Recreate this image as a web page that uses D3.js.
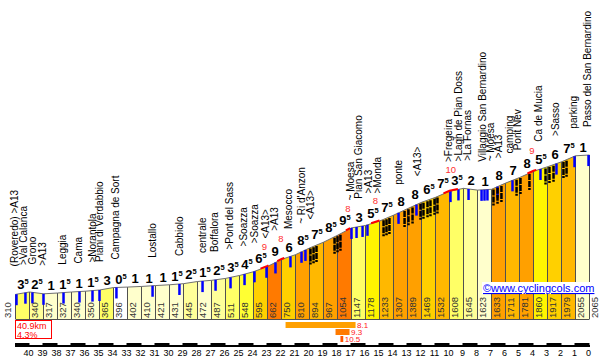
<!DOCTYPE html>
<html><head><meta charset="utf-8">
<script src="https://cdn.jsdelivr.net/npm/d3@7/dist/d3.min.js"></script>
<style>body{margin:0;background:#fff;overflow:hidden}svg{display:block}</style>
</head><body>
<svg id="chart" width="603" height="360"></svg>
<script>
// ---------- DATA ----------
// elevation (m) at each km boundary, from start (40.9 km to go) to the top
const elevations = [310,340,317,327,340,350,365,396,402,410,421,431,445,472,487,511,548,595,662,750,810,894,967,1054,1147,1178,1233,1307,1389,1469,1532,1608,1645,1623,1633,1711,1781,1860,1917,1979,2055,2065];
// gradient printed above each km (%)
const gradients = [3.5,2.5,1,1.5,1,1.5,3,0.5,1,1,1,1.5,2.5,1.5,2.5,3.5,4.5,6.5,9,6,8.5,7.5,8.5,9.5,3,5.5,7.5,8,8,6.5,7.5,3.5,2,1,8,7,8,5.5,6,7.5,1];
// km-to-go tick labels
const kmLabels = [40,39,38,37,36,35,34,33,32,31,30,29,28,27,26,25,24,23,22,21,20,19,18,17,16,15,14,13,12,11,10,9,8,7,6,5,4,3,2,1,0];
// place names and their positions (in km columns from start)
const placeNames = ["(Roveredo) >A13",">Val Calanca","Grono",">A13","Leggia","Cama",">Norantola","Piani di Verdabbio","Campagna de Sort","Lostallo","Cabbiolo","centrale","Boffalora",">Pont del Sass",">Soazza",">Soazza","<A13>",">A13","Mesocco","~ Ri d'Anzon","<A13>","~ Moesa","Pian San Giacomo",">A13",">Monda","ponte","<A13>",">Fregeira",">Lagh de Pian Doss",">La Fornas","Villaggio San Bernardino","~ Moesa",">A13","camping","Pont Nev","Ca de Mucia",">Sasso","parking","Passo del San Bernardino"];
const placePos = [-0.07,0.57,1.21,1.93,3.36,4.5,5.5,6.0,7.14,9.79,11.71,13.36,14.21,15.29,16.29,17.07,17.86,18.5,19.5,20.43,21.07,23.93,24.5,25.21,25.86,27.36,28.71,30.93,31.64,32.29,33.36,33.93,34.5,35.29,35.86,37.36,38.57,39.86,40.86];
// blue place markers on the profile
const markerPos = [0.07,0.71,1.21,2.0,3.43,4.57,5.5,6.0,7.21,9.79,11.71,13.36,14.29,15.36,16.36,17.07,17.93,18.57,19.64,20.43,20.71,24.0,24.36,24.79,25.14,27.36,28.64,31.07,31.64,32.36,33.29,33.5,33.71,34.43,35.5,37.5,38.64,39.93,40.93];
// hairpin bends (black marks)
const hairpinPos = [21.07,21.29,21.5,22.79,23.0,23.21,26.29,26.5,26.71,27.79,28.07,28.36,28.93,29.14,29.43,29.64,29.93,30.14,34.14,34.43,34.71,35.79,36.07,36.71,37.86,38.14,38.43,39.14,39.36];
// steepest short pitches (red)
const peakFrom = [17.5,18.7,23.6,25.4,30.57,36.57];
const peakTo   = [18.07,19.2,23.9,26.0,31.6,37.2];
const peakVal  = [9,8,8,8,10,9];
// steepest stretches: start column, length km, average %
const steepStart = [19.29,22.86,23.21];
const steepLen   = [5,1,0.2];
const steepGrade = [8.1,9.3,10.5];
const summary = ["40.9km","4.3%"];
const credit = "\u00A9www.cyclingcols.com";

// ---------- STYLE ----------
const gradeColors = ['#FFFFFF','#FFFFCC','#FFFF99','#FFFF66','#FFFF33','#FFF500','#FFD000','#FFB800','#FFA000','#FF7A00','#FF5500'];
const color = g => gradeColors[Math.min(10, Math.floor(Math.abs(g)))];

const svg = d3.select('#chart');
const x = d3.scaleLinear().domain([0, 41]).range([15.5, 589.5]);
const y = d3.scaleLinear().domain([0, 2065]).range([319, 155]);
const yBase = y(0);
const profY = p => {
  const i = Math.max(0, Math.min(40, Math.floor(p)));
  const f = Math.max(0, Math.min(1, p - i));
  return y(elevations[i] + (elevations[i+1] - elevations[i]) * f);
};
const FONT = "'Liberation Sans', Arial, sans-serif";

// columns
const cols = gradients.map((g, i) => ({g, i, e0: elevations[i], e1: elevations[i+1]}));
svg.append('g').selectAll('path').data(cols).join('path')
  .attr('d', d => `M${x(d.i)},${yBase}L${x(d.i)},${y(d.e0)}L${x(d.i+1)},${y(d.e1)}L${x(d.i+1)},${yBase}Z`)
  .attr('fill', d => color(d.g));

// column dividers
svg.append('g').selectAll('line').data(elevations).join('line')
  .attr('x1', (d, i) => x(i)).attr('x2', (d, i) => x(i))
  .attr('y1', yBase).attr('y2', d => y(d))
  .attr('stroke', '#505050').attr('stroke-width', 1);
svg.append('line').attr('x1', x(0)).attr('x2', x(41)).attr('y1', yBase + 0.5).attr('y2', yBase + 0.5)
  .attr('stroke', '#505050');

// profile line
svg.append('path')
  .attr('d', d3.line().x((d, i) => x(i)).y(d => y(d))(elevations))
  .attr('fill', 'none').attr('stroke', '#707070').attr('stroke-width', 1);

// blue markers
svg.append('g').selectAll('line').data(markerPos).join('line')
  .attr('x1', d => x(d)).attr('x2', d => x(d))
  .attr('y1', d => profY(d)).attr('y2', d => profY(d) + 11)
  .attr('stroke', '#0000FF').attr('stroke-width', 2.5);

// hairpins
svg.append('g').selectAll('line').data(hairpinPos).join('line')
  .attr('x1', d => x(d)).attr('x2', d => x(d))
  .attr('y1', d => profY(d) + 1).attr('y2', d => profY(d) + 17)
  .attr('stroke', '#000').attr('stroke-width', 2.5)
  .attr('stroke-dasharray', '6,1');

// red steep pitches on the profile
svg.append('g').selectAll('path').data(peakFrom).join('path')
  .attr('d', (d, i) => {
    const pts = [peakFrom[i]];
    for (let k = Math.ceil(peakFrom[i]); k < peakTo[i]; k++) pts.push(k);
    pts.push(peakTo[i]);
    return d3.line().x(p => x(p)).y(p => profY(p) - 0.5)(pts);
  })
  .attr('fill', 'none').attr('stroke', '#FF0000').attr('stroke-width', 2);
const peakX = i => x((peakFrom[i] + peakTo[i]) / 2);
const peakY = i => profY((peakFrom[i] + peakTo[i]) / 2) - 18;
svg.append('g').selectAll('text').data(peakVal).join('text')
  .attr('x', (d, i) => peakX(i))
  .attr('y', (d, i) => peakY(i))
  .attr('text-anchor', 'middle').attr('font-family', FONT).attr('font-size', 9.5)
  .attr('fill', '#FF3030').text(d => d);

// elevation labels in columns
svg.append('g').selectAll('text').data(elevations).join('text')
  .attr('transform', (d, i) => `translate(${i === 0 ? x(0) - 5 : x(i) + 8},${yBase - 1}) rotate(-90)`)
  .attr('font-family', FONT).attr('font-size', 9.5).attr('fill', '#333')
  .text(d => d);

// gradient numbers
const gt = svg.append('g').selectAll('text').data(cols).join('text')
  .attr('x', d => (x(d.i) + x(d.i+1)) / 2 + 0.5)
  .attr('y', d => y(Math.max(d.e0, d.e1)) - 3)
  .attr('text-anchor', 'middle').attr('font-family', FONT).attr('font-weight', 'bold');
gt.append('tspan').attr('font-size', 13).text(d => Math.floor(Math.abs(d.g)));
gt.filter(d => Math.abs(d.g) % 1 !== 0).append('tspan')
  .attr('font-size', 7.5).attr('dy', -5).text('5');

// place names (lifted above the red pitch numbers where they meet)
const placeBottom = i => {
  const px = x(placePos[i]);
  let b = profY(placePos[i]) - 28;
  peakVal.forEach((v, k) => {
    if (Math.abs(peakX(k) - px) < 9) b = Math.min(b, peakY(k) - 11);
  });
  return b;
};
svg.append('g').selectAll('text').data(placeNames).join('text')
  .attr('transform', (d, i) => `translate(${x(placePos[i])},${placeBottom(i)}) rotate(-90)`)
  .attr('dy', '0.35em')
  .attr('font-family', FONT).attr('font-size', 10).attr('fill', '#000')
  .text(d => d);

// credit
svg.append('rect').attr('x', 482).attr('y', 282).attr('width', 110).attr('height', 12).attr('fill', '#fff');
svg.append('text').attr('x', 483).attr('y', 292).attr('font-family', FONT).attr('font-size', 11)
  .attr('fill', '#0000FF').attr('text-decoration', 'underline').text(credit);

// summary box
svg.append('rect').attr('x', 15.5).attr('y', 320.5).attr('width', 36).attr('height', 18)
  .attr('fill', '#fff').attr('stroke', '#FF0000');
svg.selectAll('.sum').data(summary).join('text').attr('class', 'sum')
  .attr('x', 17).attr('y', (d, i) => 329 + i * 8.5)
  .attr('font-family', FONT).attr('font-size', 9).attr('fill', '#FF0000').text(d => d);

// steepest stretches
svg.append('g').selectAll('rect').data(steepGrade).join('rect')
  .attr('x', (d, i) => x(steepStart[i]))
  .attr('y', (d, i) => 322 + i * 7)
  .attr('width', (d, i) => x(steepStart[i] + steepLen[i]) - x(steepStart[i]))
  .attr('height', 6)
  .attr('fill', d => color(d));
svg.append('g').selectAll('text').data(steepGrade).join('text')
  .attr('x', (d, i) => x(steepStart[i] + steepLen[i]) + 1.5)
  .attr('y', (d, i) => 328 + i * 7)
  .attr('font-family', FONT).attr('font-size', 8).attr('fill', '#FF2020').text(d => d);

// km scale bar
svg.append('rect').attr('x', x(0) - 0.5).attr('y', 343).attr('width', x(41) - x(0) + 1).attr('height', 4).attr('fill', '#000');
svg.append('g').selectAll('rect').data(kmLabels).join('rect')
  .attr('x', (d, i) => x(i + 1)).attr('y', 343)
  .attr('width', 13).attr('height', 2)
  .attr('fill', (d, i) => i % 2 === 0 ? '#fff' : 'none');
svg.append('g').selectAll('text').data(kmLabels).join('text')
  .attr('x', (d, i) => x(i + 1) - 1).attr('y', 356)
  .attr('text-anchor', 'middle').attr('font-family', FONT).attr('font-size', 9).attr('fill', '#000')
  .text(d => d);
</script>
</body></html>
